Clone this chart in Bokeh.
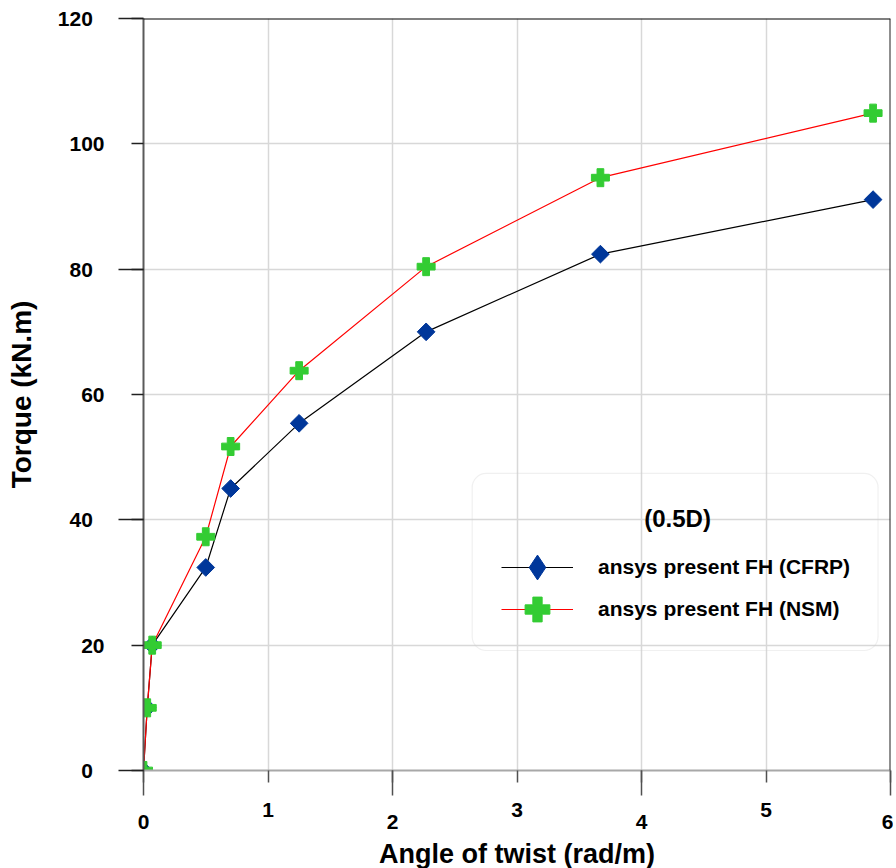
from bokeh.plotting import figure
from bokeh.models import (Range1d, FixedTicker, Span, Label, Legend, LegendItem,
                          BoxAnnotation)
from bokeh.embed import file_html
from bokeh.resources import INLINE
import math

# ---- data ----
twist = [0, 0.03, 0.07, 0.5, 0.7, 1.25, 2.27, 3.67, 5.86]
torque_cfrp = [0, 10, 20, 32.4, 45.0, 55.4, 70.0, 82.4, 91.1]
torque_nsm = [0, 10, 20, 37.3, 51.7, 63.8, 80.4, 94.6, 104.9]

x_ticks = [0, 1, 2, 3, 4, 5, 6]
x_long = [0, 2, 4, 6]          # long ticks, labels set lower
y_ticks = [0, 20, 40, 60, 80, 100, 120]
y_long = [0, 40, 80, 120]      # long ticks, labels set further left

series_names = ["ansys present FH (CFRP)", "ansys present FH (NSM)"]
legend_title = "(0.5D)"
x_title = "Angle of twist (rad/m)"
y_title = "Torque (kN.m)"

FONT = "Liberation Sans"
NBSP = "\u00a0"

p = figure(frame_width=747, frame_height=752, output_backend="svg",
           toolbar_location=None, x_range=Range1d(0, 6), y_range=Range1d(0, 120),
           min_border_left=143, min_border_top=18, min_border_right=3,
           min_border_bottom=10)
p.outline_line_color = None
p.background_fill_color = "white"

# grids
p.xgrid.ticker = FixedTicker(ticks=x_ticks)
p.ygrid.ticker = FixedTicker(ticks=y_ticks)
for g in (p.xgrid, p.ygrid):
    g.grid_line_color = "#d8d8d8"
    g.grid_line_width = 1.5

# axes: short major ticks everywhere, long "minor" ticks on alternate positions
xa = p.xaxis[0]
xa.ticker = FixedTicker(ticks=x_ticks, minor_ticks=x_long)
xa.major_label_overrides = {t: ("\n" + str(t)) for t in x_long}
xa.major_label_text_line_height = 0.55
xa.major_tick_out = 12
xa.major_tick_in = 0
xa.minor_tick_out = 25
xa.minor_tick_in = 0
xa.axis_line_color = "#a8a8a8"
xa.axis_line_width = 2
xa.major_tick_line_color = "#505050"
xa.minor_tick_line_color = "#505050"
xa.major_tick_line_width = 1.5
xa.minor_tick_line_width = 1.5
xa.major_label_standoff = 2
xa.axis_label = x_title
xa.axis_label_standoff = 3

ya = p.yaxis[0]
ya.ticker = FixedTicker(ticks=y_ticks, minor_ticks=y_long)
ya.major_label_overrides = {t: (str(t) + NBSP + NBSP) for t in y_long}
ya.major_tick_out = 12
ya.major_tick_in = 0
ya.minor_tick_out = 25
ya.minor_tick_in = 0
ya.axis_line_color = "#5a5a5a"
ya.axis_line_width = 2
ya.major_tick_line_color = "#202020"
ya.minor_tick_line_color = "#202020"
ya.major_tick_line_width = 1.5
ya.minor_tick_line_width = 1.5
ya.major_label_standoff = 14
ya.axis_label = y_title
ya.axis_label_standoff = 18

for ax in (xa, ya):
    ax.major_label_text_font = FONT
    ax.major_label_text_font_style = "bold"
    ax.major_label_text_font_size = "21px"
    ax.major_label_text_color = "black"
    ax.axis_label_text_font = FONT
    ax.axis_label_text_font_style = "bold"
    ax.axis_label_text_color = "black"
xa.axis_label_text_font_size = "27px"
ya.axis_label_text_font_size = "28px"

# frame top/right
p.add_layout(Span(location=120, dimension="width", line_color="black", line_width=2))
p.add_layout(Span(location=6, dimension="height", line_color="#202020", line_width=2))

# series
l1 = p.line(twist, torque_cfrp, line_color="black", line_width=1.2)
m1 = p.scatter(twist, torque_cfrp, marker="square", angle=math.pi / 4, size=12.5,
               fill_color="#00379a", line_color="#00379a")
l2 = p.line(twist, torque_nsm, line_color="#ff0000", line_width=1.2)
m2 = p.scatter(twist, torque_nsm, marker="plus", size=18,
               fill_color="#33cc33", line_color="#33cc33")
# legend-only diamond (the legend does not rotate markers)
m1_leg = p.scatter(twist, torque_cfrp, marker="diamond", size=12.5,
                   fill_color="#00379a", line_color="#00379a", visible=False)

# legend frame
p.add_layout(BoxAnnotation(left=2.64, right=5.90, top=47.4, bottom=19.15,
                           fill_color=None, line_color="#cccccc", line_width=1.2,
                           border_radius=14))
p.add_layout(Label(x=4.29, y=40.2, text=legend_title, text_align="center",
                   text_baseline="middle", text_font=FONT, text_font_style="bold",
                   text_font_size="24px", text_color="black"))

legend_style = dict(padding=0, margin=0, spacing=0,
                    glyph_width=72, glyph_height=62, label_height=20, label_standoff=25,
                    border_line_color=None, background_fill_alpha=0,
                    label_text_font=FONT, label_text_font_style="bold",
                    label_text_font_size="21px", label_text_color="black")
leg1 = Legend(items=[LegendItem(label=series_names[0], renderers=[l1, m1_leg])],
              location=(358, 172), **legend_style)
leg2 = Legend(items=[LegendItem(label=series_names[1], renderers=[l2, m2])],
              location=(358, 130), **legend_style)
p.add_layout(leg1)
p.add_layout(leg2)

open("out.html", "w").write(file_html(p, INLINE))
